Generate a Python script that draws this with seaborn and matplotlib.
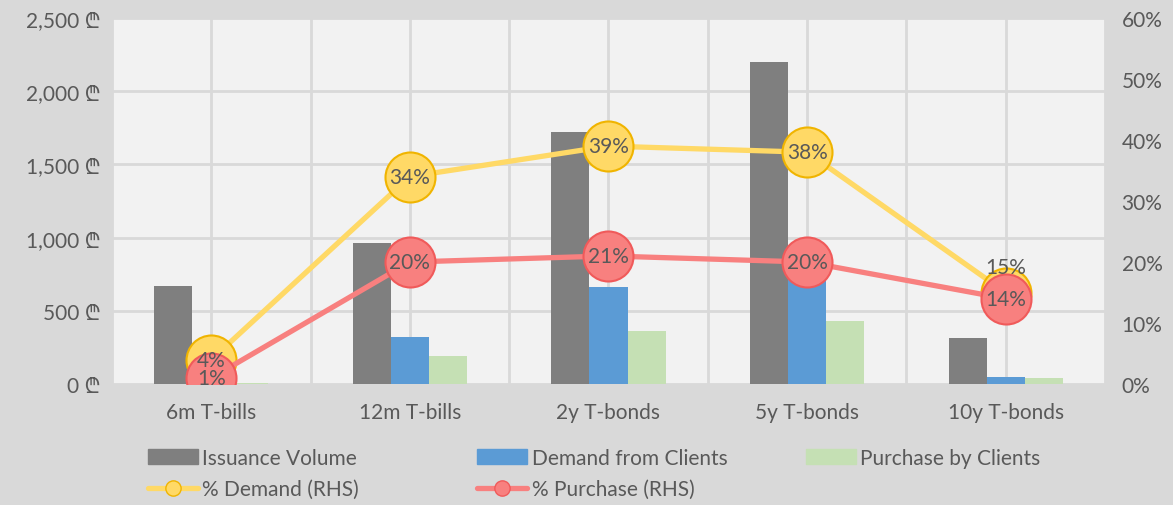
import numpy as np
import pandas as pd
import seaborn as sns
import matplotlib.pyplot as plt
from matplotlib.ticker import FuncFormatter, MultipleLocator
from matplotlib.lines import Line2D

# chart values
categories = ['6m T-bills', '12m T-bills', '2y T-bonds', '5y T-bonds', '10y T-bonds']
issuance = [670, 960, 1720, 2200, 315]
demand = [27, 320, 665, 830, 45]
purchase = [7, 190, 362, 432, 42]
pct_demand = [4, 34, 39, 38, 15]
pct_purchase = [1, 20, 21, 20, 14]

bar_names = ['Issuance Volume', 'Demand from Clients', 'Purchase by Clients']
bar_colors = ['#7f7f7f', '#5b9bd5', '#c5e0b4']

df = pd.DataFrame({
    'category': categories * 3,
    'series': np.repeat(bar_names, len(categories)),
    'value': issuance + demand + purchase,
})

sns.set_style('white')
plt.rcParams['font.family'] = ['Lato', 'Noto Sans', 'Open Sans', 'Roboto',
                               'Liberation Sans', 'DejaVu Sans', 'Noto Sans CJK SC']
txt = '#595959'

fig = plt.figure(figsize=(11.73, 5.06), dpi=100, facecolor='#d9d9d9')
ax = fig.add_axes([0.0955, 0.239, 0.8465, 0.7235])
ax.set_facecolor('#f2f2f2')

sns.barplot(data=df, x='category', y='value', hue='series', order=categories,
            hue_order=bar_names, palette=bar_colors, width=0.575, gap=0,
            saturation=1, ax=ax, legend=False, linewidth=0, edgecolor='none')

ax.set_ylim(0, 2500)
ax.yaxis.set_major_locator(MultipleLocator(500))
ax.yaxis.set_major_formatter(FuncFormatter(lambda v, p: f'{v:,.0f} \u20be'))
ax.set_xlim(-0.5, len(categories) - 0.5)
ax.set_xticks(np.arange(-0.5, len(categories), 1.0), minor=True)
ax.grid(True, which='both', axis='x', color='#d9d9d9', lw=2)
ax.grid(True, which='major', axis='y', color='#d9d9d9', lw=2)
ax.set_axisbelow(True)
ax.set_xlabel('')
ax.set_ylabel('')
for s in ax.spines.values():
    s.set_visible(False)
ax.tick_params(axis='both', which='both', length=0, labelsize=15, colors=txt, pad=8)
ax.tick_params(axis='x', pad=13)

ax2 = ax.twinx()
line_specs = [
    ('% Demand (RHS)', pct_demand, '#ffd966', '#f0b400'),
    ('% Purchase (RHS)', pct_purchase, '#f8807f', '#f05a5a'),
]
for name, vals, col, edge in line_specs:
    sns.pointplot(x=categories, y=vals, order=categories, color=col, ax=ax2,
                  markersize=36, linewidth=3.8, markeredgecolor=edge,
                  markeredgewidth=1.5, errorbar=None)
    for i, v in enumerate(vals):
        dy = 4.2 if (name.startswith('% Demand') and i == 4) else 0
        ax2.text(i, v + dy, f'{v}%', ha='center', va='center',
                 fontsize=15, color=txt, zorder=10)

ax2.set_ylim(0, 60)
ax2.yaxis.set_major_locator(MultipleLocator(10))
ax2.yaxis.set_major_formatter(FuncFormatter(lambda v, p: f'{v:.0f}%'))
ax2.set_xlim(-0.5, len(categories) - 0.5)
ax2.set_ylabel('')
for s in ax2.spines.values():
    s.set_visible(False)
ax2.tick_params(axis='both', length=0, labelsize=15, colors=txt, pad=12)
ax2.grid(False)

# legend: one column per block, placed like the original
patches = [plt.Rectangle((0, 0), 1, 1, color=c) for c in bar_colors]
lines = [Line2D([], [], color=c, lw=3.8, marker='o', markersize=11,
                markerfacecolor=c, markeredgecolor=e) for _, _, c, e in line_specs]
leg_cols = [
    ([patches[0], lines[0]], [bar_names[0], line_specs[0][0]]),
    ([patches[1], lines[1]], [bar_names[1], line_specs[1][0]]),
    ([patches[2]], [bar_names[2]]),
]
for (h, l), x0 in zip(leg_cols, [0.110, 0.391, 0.671]):
    fig.legend(h, l, loc='upper left', bbox_to_anchor=(x0, 0.150),
               frameon=False, fontsize=15, labelcolor=txt, handlelength=2.4,
               handletextpad=0.2, labelspacing=0.55)

fig.savefig('out.png', dpi=100, facecolor=fig.get_facecolor())
